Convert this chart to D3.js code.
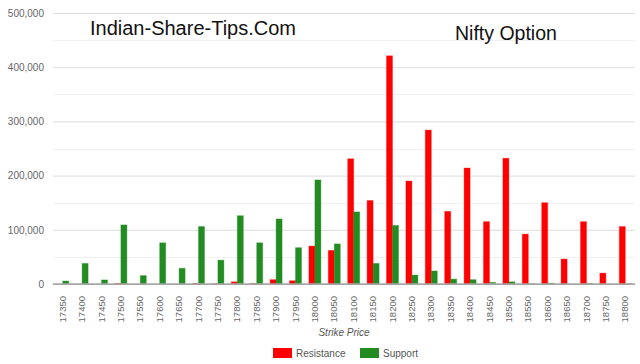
<!DOCTYPE html>
<html>
<head>
<meta charset="utf-8">
<script src="https://cdn.jsdelivr.net/npm/d3@7"></script>
<style>
  body { margin: 0; background: #fff; }
  svg { display: block; font-family: "Liberation Sans", Arial, sans-serif; }
</style>
</head>
<body>
<div id="chart"></div>
<script>
// strike prices
const strikes = [17350, 17400, 17450, 17500, 17550, 17600, 17650, 17700, 17750, 17800,
  17850, 17900, 17950, 18000, 18050, 18100, 18150, 18200, 18250, 18300,
  18350, 18400, 18450, 18500, 18550, 18600, 18650, 18700, 18750, 18800];

const resistance = [0, 0, 0, 1000, 0, 0, 0, 1000, 500, 4000,
  1000, 8000, 6000, 70000, 62000, 231000, 154000, 421000, 190000, 284000,
  134000, 214000, 115000, 232000, 92000, 150000, 46000, 115000, 20000, 106000];

const support = [5500, 38000, 7500, 109000, 15500, 76000, 29000, 106000, 44000, 126000,
  76000, 120000, 67000, 192000, 74000, 133000, 38000, 108000, 16500, 24000,
  9000, 8000, 3000, 4000, 500, 1500, 0, 1000, 0, 500];

const seriesNames = ["Resistance", "Support"];
const seriesColors = ["#ff0000", "#228b22"];
const yTicks = [0, 100000, 200000, 300000, 400000, 500000];

const W = 640, H = 364;
const margin = { left: 53, right: 5, top: 13, bottom: 80 };

const svg = d3.select("#chart").append("svg")
  .attr("width", W)
  .attr("height", H);

const x = d3.scaleBand()
  .domain(strikes)
  .range([margin.left, W - margin.right])
  .paddingInner(0)
  .paddingOuter(0);

const xs = d3.scaleBand()
  .domain(seriesNames)
  .range([x.bandwidth() / 2 - 6, x.bandwidth() / 2 + 6]);

const y = d3.scaleLinear()
  .domain([0, 500000])
  .range([H - margin.bottom, margin.top]);

// minor gridlines
svg.append("g")
  .selectAll("line")
  .data(d3.range(50000, 500000, 100000))
  .join("line")
  .attr("x1", margin.left).attr("x2", W - margin.right)
  .attr("y1", d => Math.round(y(d)) + 0.5).attr("y2", d => Math.round(y(d)) + 0.5)
  .attr("stroke", "#f0f0f0");

// y axis with major gridlines
const yAxis = svg.append("g")
  .attr("transform", `translate(${margin.left},0)`)
  .call(d3.axisLeft(y).tickValues(yTicks).tickSize(-(W - margin.left - margin.right)).tickPadding(9).tickFormat(d3.format(",")));
yAxis.select(".domain").remove();
yAxis.selectAll(".tick line").attr("stroke", d => d === 0 ? "#999" : "#dcdcdc");
yAxis.selectAll("text").attr("fill", "#666").attr("font-size", 10);

// bars
const groups = svg.append("g")
  .selectAll("g")
  .data(strikes.map((s, i) => ({ s, vals: [resistance[i], support[i]] })))
  .join("g")
  .attr("transform", d => `translate(${x(d.s)},0)`);

groups.selectAll("rect")
  .data(d => d.vals.map((v, k) => ({ v, k })))
  .join("rect")
  .attr("x", d => xs(seriesNames[d.k]))
  .attr("width", xs.bandwidth())
  .attr("y", d => y(d.v))
  .attr("height", d => y(0) - y(d.v))
  .attr("fill", d => seriesColors[d.k])
  .attr("stroke", d => seriesColors[d.k])
  .attr("stroke-opacity", 0.35)
  .attr("stroke-width", 1);

// baseline on top
svg.append("line")
  .attr("x1", margin.left).attr("x2", W - margin.right)
  .attr("y1", y(0)).attr("y2", y(0))
  .attr("stroke", "#aaa").attr("stroke-width", 1.5);

// x axis labels, rotated
svg.append("g")
  .selectAll("text")
  .data(strikes)
  .join("text")
  .attr("transform", d => `translate(${x(d) + x.bandwidth() / 2 + 3},${y(0) + 12}) rotate(-90)`)
  .attr("text-anchor", "end")
  .attr("font-size", 9.5)
  .attr("fill", "#666")
  .text(d => d);

// axis title
svg.append("text")
  .attr("x", (margin.left + W - margin.right) / 2)
  .attr("y", 336)
  .attr("text-anchor", "middle")
  .attr("font-size", 10)
  .attr("font-style", "italic")
  .attr("fill", "#555")
  .text("Strike Price");

// legend
const legend = svg.append("g").attr("transform", "translate(273,348)");
const legendX = [0, 87];
seriesNames.forEach((n, i) => {
  legend.append("rect")
    .attr("x", legendX[i]).attr("y", 0)
    .attr("width", 19).attr("height", 10)
    .attr("fill", seriesColors[i]);
  legend.append("text")
    .attr("x", legendX[i] + 23).attr("y", 9)
    .attr("font-size", 10)
    .attr("fill", "#555")
    .text(n);
});

// titles on the chart
svg.append("text")
  .attr("x", 90).attr("y", 34.5)
  .attr("font-size", 20)
  .attr("fill", "#111")
  .text("Indian-Share-Tips.Com");

svg.append("text")
  .attr("x", 455).attr("y", 40)
  .attr("font-size", 19.5)
  .attr("fill", "#111")
  .text("Nifty Option");
</script>
</body>
</html>
